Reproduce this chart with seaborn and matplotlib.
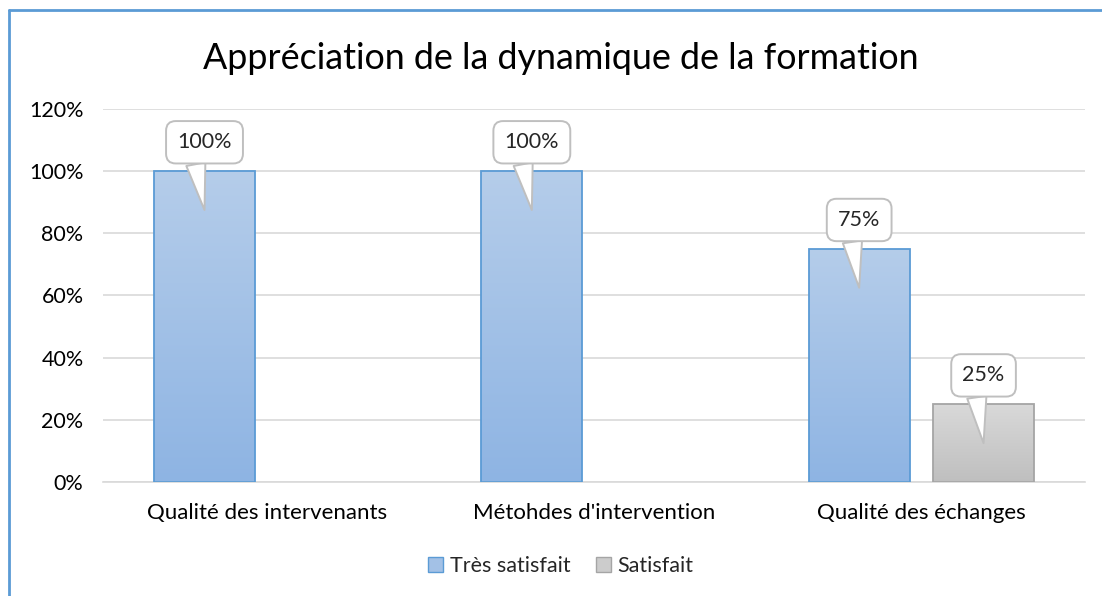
import numpy as np
import pandas as pd
import matplotlib
matplotlib.use("Agg")
import matplotlib.pyplot as plt
from matplotlib.colors import LinearSegmentedColormap
from matplotlib.lines import Line2D
from matplotlib.patches import Patch
import seaborn as sns

categories = ["Qualité des intervenants", "Métohdes d'intervention", "Qualité des échanges"]
series = ["Très satisfait", "Satisfait"]
tres_satisfait = [100, 100, 75]
satisfait = [0, 0, 25]
yticks = [0, 20, 40, 60, 80, 100, 120]

df = pd.DataFrame({
    "categorie": categories * 2,
    "serie": [series[0]] * 3 + [series[1]] * 3,
    "valeur": tres_satisfait + satisfait,
})

sns.set_theme(style="white")
plt.rcParams["font.family"] = ["Lato", "DejaVu Sans"]

fig = plt.figure(figsize=(11.02, 5.96), dpi=100)
ax = fig.add_axes([0.0935, 0.1913, 0.8911, 0.6258])

blue_edge = "#5b9bd5"
grey_edge = "#a5a5a5"
grads = {
    series[0]: ("#b5cdea", "#8eb4e3"),
    series[1]: ("#d9d9d9", "#bfbfbf"),
}
edges = {series[0]: blue_edge, series[1]: grey_edge}

sns.barplot(data=df, x="categorie", y="valeur", hue="serie", order=categories,
            hue_order=series, width=0.76, gap=0.19, palette=["#a3c1e6", "#cccccc"],
            legend=False, ax=ax, zorder=2)

ax.set_yticks(yticks)
ax.set_yticklabels([f"{t}%" for t in yticks])
ax.yaxis.grid(True, color="#d9d9d9", linewidth=1.2, zorder=0)
ax.set_axisbelow(True)
for s in ["left", "right", "top"]:
    ax.spines[s].set_visible(False)
ax.spines["bottom"].set_color("#d9d9d9")
ax.spines["bottom"].set_linewidth(1.2)
ax.tick_params(axis="both", length=0, labelsize=15.5, colors="#000000")
ax.tick_params(axis="x", pad=15, labelsize=16)
ax.tick_params(axis="y", pad=14)
ax.set_xlabel("")
ax.set_ylabel("")

# gradient fill + callouts
values_by_series = {series[0]: tres_satisfait, series[1]: satisfait}
for container, name in zip(ax.containers, series):
    top_c, bot_c = grads[name]
    cmap = LinearSegmentedColormap.from_list(name, [bot_c, top_c])
    for bar, val in zip(container, values_by_series[name]):
        if val <= 0:
            bar.set_visible(False)
            continue
        x0, w, h = bar.get_x(), bar.get_width(), bar.get_height()
        im = ax.imshow(np.linspace(0, 1, 256).reshape(-1, 1), cmap=cmap, origin="lower",
                       extent=[x0, x0 + w, 0, h], aspect="auto", zorder=2)
        im.set_clip_path(bar)
        bar.set_facecolor("none")
        bar.set_edgecolor(edges[name])
        bar.set_linewidth(1.3)
        bar.set_zorder(3)
        xc = x0 + w / 2
        ax.annotate(f"{val}%", xy=(xc, val - 12.5), xytext=(xc, val + 9.3),
                    ha="center", va="center", fontsize=15.5, zorder=5,
                    bbox=dict(boxstyle="round,pad=0.52,rounding_size=0.45", fc="white",
                              ec="#bfbfbf", lw=1.4),
                    arrowprops=dict(arrowstyle="wedge,tail_width=0.9,shrink_factor=0.5",
                                    fc="white", ec="#bfbfbf", lw=1.4,
                                    relpos=(0.3, 0.0), shrinkA=0, shrinkB=0))

ax.set_xlim(-0.5, 2.5)
ax.set_ylim(0, 120)

fig.text(0.509, 0.902, "Appréciation de la dynamique de la formation",
         ha="center", va="center", fontsize=25.8, color="#000000")

handles = [Patch(facecolor="#a3c1e6", edgecolor=blue_edge, label=series[0]),
           Patch(facecolor="#cccccc", edgecolor=grey_edge, label=series[1])]
fig.legend(handles=handles, loc="center", bbox_to_anchor=(0.509, 0.05), ncol=2,
           frameon=False, fontsize=15.5, handlelength=0.7, handleheight=0.7,
           handletextpad=0.3, columnspacing=1.2)

fig.add_artist(Line2D([9 / 1102, 9 / 1102], [0, 1 - 10 / 596], color=blue_edge, lw=2,
                      transform=fig.transFigure))
fig.add_artist(Line2D([9 / 1102, 1], [1 - 10 / 596, 1 - 10 / 596], color=blue_edge, lw=2,
                      transform=fig.transFigure))

fig.savefig("out.png", dpi=100)
